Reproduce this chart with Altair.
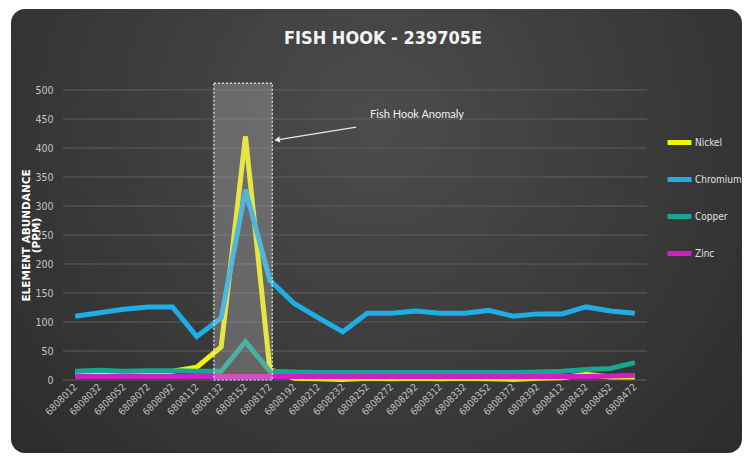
import altair as alt
import pandas as pd

northing = [6808012, 6808032, 6808052, 6808072, 6808092, 6808112, 6808132, 6808152,
            6808172, 6808192, 6808212, 6808232, 6808252, 6808272, 6808292, 6808312,
            6808332, 6808352, 6808372, 6808392, 6808412, 6808432, 6808452, 6808472]
nickel = [12, 12, 12, 13, 15, 22, 57, 420, 18, 3, 2, 1, 3, 2, 3, 2, 3, 2, 1, 3, 4, 10, 5, 5]
chromium = [110, 116, 122, 126, 126, 75, 107, 328, 172, 132, 107, 83, 115, 115, 119, 115,
            115, 120, 110, 114, 114, 126, 119, 115]
copper = [15, 17, 15, 16, 16, 15, 15, 66, 15, 14, 13, 13, 13, 13, 13, 13, 13, 13, 13, 14,
          15, 18, 20, 30]
zinc = [6, 6, 6, 6, 6, 6, 6, 6, 6, 6, 6, 6, 6, 6, 6, 6, 6, 6, 6, 6, 6, 6, 7, 8]
y_ticks = [0, 50, 100, 150, 200, 250, 300, 350, 400, 450, 500]

elements = ["Nickel", "Chromium", "Copper", "Zinc"]
colors = ["#f2f20c", "#1eaee6", "#17a595", "#d01fbf"]
series = [nickel, chromium, copper, zinc]

rows = []
for name, vals in zip(elements, series):
    for n, v in zip(northing, vals):
        rows.append({"northing": n, "value": v, "element": name})
df = pd.DataFrame(rows)

# annotation data
box_x = [6808126, 6808174]
box_y = [0, 512]
anno_text = "Fish Hook Anomaly"
anno_pos = [6808293, 457]
arrow_from = [6808243, 436]
arrow_to = [6808178, 414]

FONT = "'Liberation Sans Narrow', 'DejaVu Sans Condensed', 'Open Sans', sans-serif"

xscale = alt.Scale(domain=[6808002, 6808482], nice=False, zero=False)
yscale = alt.Scale(domain=[0, 500], nice=False)
xaxis = alt.Axis(values=northing, format="d", labelAngle=-45, labelAlign="right",
                 labelBaseline="middle", labelColor="#c0c0c0", labelFontSize=10,
                 labelFont=FONT, grid=False, domain=False, ticks=False,
                 labelPadding=5, labelOverlap=False, zindex=1)
yaxis = alt.Axis(values=y_ticks, labelColor="#c4c4c4", labelFontSize=10.5, labelFont=FONT,
                 labelPadding=10, labelOverlap=False, grid=False,
                 domain=False, ticks=False, titleColor="#ffffff",
                 titleFontSize=10.5, titleFont="'DejaVu Sans', sans-serif",
                 titleFontWeight="bold", titleX=-37, titleY=145, titleAlign="center",
                 titleBaseline="middle", titleLineHeight=10, titleAngle=270, zindex=1)
YTITLE = ["ELEMENT ABUNDANCE", "(PPM)"]


def X(field):
    return alt.X(field, type="quantitative", scale=xscale, axis=xaxis, title=None)


def Y(field):
    return alt.Y(field, type="quantitative", scale=yscale, axis=yaxis, title=YTITLE)


box_df = pd.DataFrame({"x1": [box_x[0]], "x2": [box_x[1]], "y1": [box_y[0]], "y2": [box_y[1]]})

panel_fill = {"gradient": "radial",
              "stops": [{"offset": 0, "color": "#4c4c4c"}, {"offset": 1, "color": "#262626"}],
              "x1": 0.5, "y1": 0.35, "r1": 0, "x2": 0.5, "y2": 0.35, "r2": 0.8}
panel = alt.Chart(box_df).mark_rect(fill=panel_fill, cornerRadius=14, clip=False).encode(
    x=alt.value(-52), x2=alt.value(679), y=alt.value(-81), y2=alt.value(363),
)

grid_df = pd.DataFrame({"gy": y_ticks})
grid = alt.Chart(grid_df).mark_rule(color="#5e5e5e", strokeWidth=1).encode(
    y=Y("gy"),
)

lines = alt.Chart(df).mark_line(strokeWidth=5).encode(
    x=X("northing"),
    y=Y("value"),
    color=alt.Color("element:N", scale=alt.Scale(domain=elements, range=colors),
                    legend=alt.Legend(title=None, orient="none", legendX=602, legendY=38,
                                      symbolType="stroke", symbolSize=576, symbolStrokeWidth=5,
                                      labelColor="#e0e0e0", labelFontSize=10, labelFont=FONT,
                                      labelOffset=1, rowPadding=12, zindex=1)),
)

box = alt.Chart(box_df).mark_rect(fill="#c8c8c8", fillOpacity=0.3, stroke="#eeeeee",
                                  strokeDash=[2, 2], strokeWidth=1.2, clip=False).encode(
    x=X("x1"), x2="x2:Q",
    y=Y("y1"), y2="y2:Q",
)

arrow_df = pd.DataFrame({"xa": [arrow_from[0]], "ya": [arrow_from[1]],
                         "xb": [arrow_to[0]], "yb": [arrow_to[1]]})
arrow = alt.Chart(arrow_df).mark_rule(color="#e8e8e8", strokeWidth=1.3).encode(
    x=X("xa"), x2="xb:Q",
    y=Y("ya"), y2="yb:Q",
)
head = alt.Chart(arrow_df).mark_point(shape="triangle-left", filled=True, color="#e8e8e8",
                                      size=40, angle=351, opacity=1).encode(
    x=X("xb"),
    y=Y("yb"),
)

text_df = pd.DataFrame({"tx": [anno_pos[0]], "ty": [anno_pos[1]], "label": [anno_text]})
text = alt.Chart(text_df).mark_text(color="#f0f0f0", fontSize=11, font="Lato").encode(
    x=X("tx"),
    y=Y("ty"),
    text="label:N",
)

chart = alt.layer(panel, grid, lines, box, arrow, head, text).properties(
    width=584, height=290,
    title=alt.TitleParams("FISH HOOK - 239705E", color="#f4f4f4", fontSize=18,
                          font=FONT, fontWeight="bold", anchor="middle", frame="group",
                          offset=-39, dx=28, zindex=1),
    autosize=alt.AutoSizeParams(type="none"),
    padding={"left": 55, "top": 82, "right": 95, "bottom": 74},
    background="#ffffff",
).configure_view(stroke=None)

chart.save("out.html", embed_options={"renderer": "svg", "actions": False})
